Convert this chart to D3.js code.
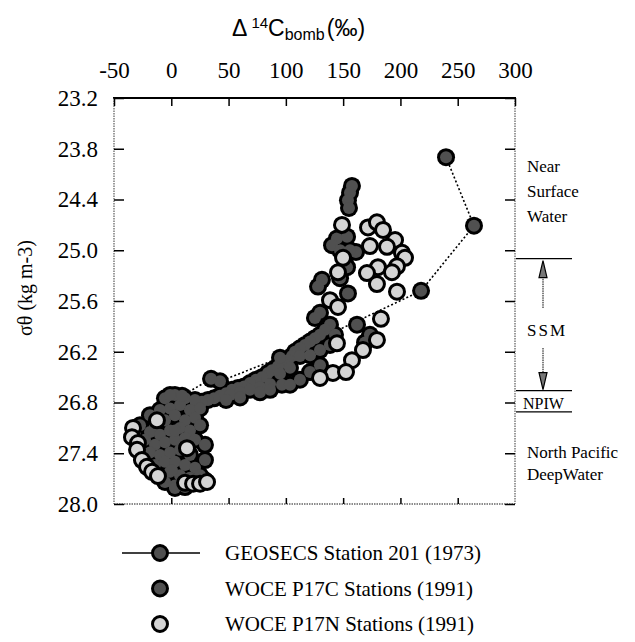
<!DOCTYPE html>
<html>
<head>
<meta charset="utf-8">
<script src="https://cdn.jsdelivr.net/npm/d3@7"></script>
<style>
  body { margin: 0; background: #fff; }
  svg text { font-family: "Liberation Serif", "Times New Roman", serif; fill: #000; }
</style>
</head>
<body>
<svg id="chart" width="635" height="642"></svg>
<script>
// Axis ticks
const xTicks = [-50, 0, 50, 100, 150, 200, 250, 300];
const yTicks = [23.2, 23.8, 24.4, 25.0, 25.6, 26.2, 26.8, 27.4, 28.0];

// GEOSECS Station 201 profile (delta14C bomb, sigma-theta), in depth order
const geosecs = [
  [239.8, 23.90], [264.2, 24.71], [218.0, 25.48], [94.9, 26.27],
  [42.5, 26.55], [34.7, 26.52], [9.4, 26.72], [3.2, 27.13], [0.6, 27.60], [3.2, 27.81]
];

// WOCE P17C stations
const p17c = [
  // upper column / cluster
  [157.7, 24.24], [156.0, 24.32], [154.2, 24.41], [155.1, 24.50],
  [144.6, 24.86], [153.4, 24.84], [140.3, 24.94], [147.3, 25.00], [161.2, 25.02],
  [156.0, 25.00], [151.6, 25.09], [153.4, 25.20], [147.3, 25.33],
  [131.5, 25.35], [128.1, 25.43], [154.2, 25.51], [129.8, 25.74], [125.4, 25.80],
  [162.1, 25.88], [173.4, 26.00], [169.1, 26.09],
  // middle band
  [138.5, 25.88], [134.2, 25.94], [129.8, 26.00], [125.4, 26.04], [121.1, 26.08],
  [116.7, 26.12], [112.3, 26.16], [108.0, 26.20], [105.4, 26.25], [101.9, 26.30],
  [97.5, 26.33], [93.1, 26.37], [87.9, 26.42], [84.4, 26.45], [79.2, 26.50],
  [73.9, 26.53], [68.7, 26.57], [63.5, 26.61], [58.2, 26.63], [53.0, 26.65],
  [47.8, 26.69], [42.5, 26.72], [37.3, 26.75], [32.0, 26.77], [26.8, 26.79], [21.6, 26.81],
  [112.3, 26.25], [121.1, 26.24], [129.8, 26.18], [138.5, 26.12], [142.9, 26.00],
  [103.6, 26.39], [94.9, 26.46], [86.2, 26.58], [77.4, 26.62], [68.7, 26.65],
  [60.0, 26.68], [51.2, 26.71], [96.6, 26.59], [103.6, 26.59], [112.3, 26.53],
  [121.1, 26.44], [129.8, 26.36], [77.4, 26.68], [86.2, 26.65], [60.0, 26.74], [47.8, 26.77],
  // deep cluster
  [-5.5, 26.75], [3.2, 26.71], [12.0, 26.75], [20.7, 26.77], [7.6, 26.83],
  [-1.1, 26.87], [-9.9, 26.89], [-18.6, 26.95], [16.3, 26.89], [25.1, 26.87],
  [3.2, 26.95], [-5.5, 27.01], [-14.2, 27.07], [12.0, 27.01], [20.7, 26.98],
  [-18.6, 27.15], [-9.9, 27.18], [-1.1, 27.13], [7.6, 27.10], [16.3, 27.13],
  [25.1, 27.07], [-22.9, 27.24], [-14.2, 27.30], [-5.5, 27.27], [3.2, 27.24],
  [12.0, 27.22], [20.7, 27.24], [-18.6, 27.39], [-9.9, 27.42], [-1.1, 27.39],
  [7.6, 27.36], [16.3, 27.42], [-14.2, 27.54], [-5.5, 27.50], [3.2, 27.50],
  [12.0, 27.54], [20.7, 27.57], [-9.9, 27.66], [-1.1, 27.62], [7.6, 27.66],
  [16.3, 27.69], [3.2, 27.78], [12.0, 27.80], [-5.5, 27.74], [25.1, 27.66],
  [29.4, 27.72], [-1.1, 26.71], [-27.3, 27.07], [-31.7, 27.18], [29.4, 27.30], [29.4, 27.48]
];

// WOCE P17N stations
const p17n = [
  // upper cluster
  [149.0, 24.70], [171.7, 24.73], [179.5, 24.67], [184.8, 24.76], [195.3, 24.88],
  [173.4, 24.95], [188.3, 24.96], [201.4, 25.03], [204.0, 25.09], [197.0, 25.19],
  [180.4, 25.20], [170.8, 25.27], [192.6, 25.26], [149.9, 25.09], [145.5, 25.26],
  [179.5, 25.40], [197.0, 25.49], [138.5, 25.59], [145.5, 25.67], [183.0, 25.81],
  [179.5, 26.06], [167.3, 26.18], [157.7, 26.30], [144.6, 26.10], [141.1, 26.45],
  [129.8, 26.51], [152.5, 26.44],
  // deep cluster rim
  [-33.4, 27.10], [-34.3, 27.21], [-29.1, 27.28], [-29.9, 27.36], [-25.6, 27.48],
  [-21.2, 27.56], [-16.8, 27.62], [-11.6, 27.67], [12.0, 27.75], [19.0, 27.76],
  [25.1, 27.76], [31.2, 27.74], [-12.5, 27.01], [13.7, 27.34]
];

// Legend and water-mass labels
const legendLabels = ["GEOSECS Station 201 (1973)", "WOCE P17C Stations (1991)", "WOCE P17N Stations (1991)"];
const zoneLevels = [25.1, 26.66, 26.91];

const darkFill = "#505050";
const lightFill = "#d4d4d4";
const R = 7.5;
const SW = 3;

const svg = d3.select("#chart");
const x = d3.scaleLinear().domain([-50, 300]).range([114, 515]);
const y = d3.scaleLinear().domain([23.2, 28.0]).range([98, 504]);

// Frame
const frame = svg.append("g");
frame.append("line").attr("x1", 113).attr("x2", 516).attr("y1", 98).attr("y2", 98)
  .attr("stroke", "#000").attr("stroke-width", 2);
[[114, 98, 114, 504], [515, 98, 515, 504], [114, 504, 515, 504]].forEach(d => {
  frame.append("line").attr("x1", d[0]).attr("y1", d[1]).attr("x2", d[2]).attr("y2", d[3])
    .attr("stroke", "#666").attr("stroke-width", 1.3).attr("stroke-dasharray", "1.5,1");
});

function styleAxis(g, size) {
  g.select(".domain").remove();
  g.attr("font-family", "Liberation Serif, Times New Roman, serif").attr("font-size", size);
  g.selectAll(".tick line").attr("stroke-width", 1.5);
}

svg.append("g").attr("transform", "translate(0,98)")
  .call(d3.axisTop(x).tickValues(xTicks).tickSizeInner(-8).tickSizeOuter(0)
    .tickPadding(20).tickFormat(d => String(d)))
  .call(g => styleAxis(g, 23));

svg.append("g").attr("transform", "translate(114,0)")
  .call(d3.axisLeft(y).tickValues(yTicks).tickSizeInner(-10).tickSizeOuter(0)
    .tickPadding(16).tickFormat(d3.format(".1f")))
  .call(g => styleAxis(g, 23));

svg.append("g").attr("transform", "translate(515,0)")
  .call(d3.axisRight(y).tickValues(yTicks).tickSizeInner(-10).tickSizeOuter(0).tickFormat(""))
  .call(g => styleAxis(g, 10));

svg.append("g").attr("transform", "translate(0,504)")
  .call(d3.axisBottom(x).tickValues(xTicks.slice(1, -1)).tickSizeInner(-6).tickSizeOuter(0).tickFormat(""))
  .call(g => styleAxis(g, 10));

// Axis titles
const title = svg.append("text").attr("x", 232).attr("y", 36)
  .style("font-family", "Liberation Sans, Arial, sans-serif").attr("font-size", 23);
title.append("tspan").text("Δ");
title.append("tspan").attr("font-size", 15).attr("dx", 4).attr("dy", -8).text("14");
title.append("tspan").attr("dy", 8).text("C");
title.append("tspan").attr("font-size", 16).attr("dy", 4).text("bomb");
title.append("tspan").attr("dy", -4).attr("dx", 2).text("(‰)");

svg.append("text").attr("transform", "translate(32,288) rotate(-90)")
  .attr("text-anchor", "middle").attr("font-size", 20).text("σθ (kg m-3)");

// GEOSECS dotted profile
svg.append("path").datum(geosecs)
  .attr("d", d3.line().x(d => x(d[0])).y(d => y(d[1])))
  .attr("fill", "none").attr("stroke", "#000").attr("stroke-width", 1.6)
  .attr("stroke-dasharray", "2,2.2");

// Dark points: outlines first, then fills, so overlapping points merge
const darkPts = p17c.concat(geosecs);
const dots = svg.append("g");
dots.selectAll(".dk-out").data(darkPts).join("circle")
  .attr("cx", d => x(d[0])).attr("cy", d => y(d[1])).attr("r", R + SW / 2)
  .attr("fill", "#000");
dots.selectAll(".dk-in").data(darkPts).join("circle")
  .attr("cx", d => x(d[0])).attr("cy", d => y(d[1])).attr("r", R - SW / 2)
  .attr("fill", darkFill);

// Light points drawn one by one with rings
dots.selectAll(".lt").data(p17n).join("circle")
  .attr("cx", d => x(d[0])).attr("cy", d => y(d[1])).attr("r", R)
  .attr("fill", lightFill).attr("stroke", "#000").attr("stroke-width", SW);

// Water mass annotations
const ann = svg.append("g");
zoneLevels.forEach(v => {
  ann.append("line").attr("x1", 516).attr("x2", 572).attr("y1", y(v)).attr("y2", y(v))
    .attr("stroke", "#000").attr("stroke-width", 1.3);
});
const annFont = 17;
[["Near", 172], ["Surface", 197], ["Water", 222], ["SSM", 336], ["North Pacific", 458], ["DeepWater", 480]]
  .forEach(([t, yy]) => {
    ann.append("text").attr("x", 527).attr("y", yy).attr("font-size", annFont)
      .attr("letter-spacing", t === "SSM" ? 2 : 0).text(t);
  });
ann.append("text").attr("x", 523).attr("y", 409).attr("font-size", 16).text("NPIW");

function arrow(x0, yFrom, yTo) {
  const dir = yTo < yFrom ? -1 : 1;
  ann.append("line").attr("x1", x0).attr("x2", x0).attr("y1", yFrom).attr("y2", yTo - dir * 14)
    .attr("stroke", "#000").attr("stroke-width", 1).attr("stroke-dasharray", "1.5,0.8");
  ann.append("path")
    .attr("d", `M${x0},${yTo} L${x0 - 4},${yTo - dir * 17} L${x0 + 4},${yTo - dir * 17} Z`)
    .attr("fill", "#777").attr("stroke", "#000").attr("stroke-width", 1.2);
}
arrow(543, 308, y(zoneLevels[0]) + 2);
arrow(543, 348, y(zoneLevels[1]) - 1);

// Legend
const legend = svg.append("g");
legendLabels.forEach((label, i) => {
  const cy = 553 + i * 35.5;
  if (i === 0) {
    legend.append("line").attr("x1", 122).attr("x2", 200).attr("y1", cy).attr("y2", cy)
      .attr("stroke", "#000").attr("stroke-width", 1.5);
  }
  legend.append("circle").attr("cx", 160).attr("cy", cy).attr("r", R)
    .attr("fill", i === 2 ? lightFill : darkFill).attr("stroke", "#000").attr("stroke-width", SW);
  legend.append("text").attr("x", 225).attr("y", cy + 7).attr("font-size", 21).text(label);
});
</script>
</body>
</html>
